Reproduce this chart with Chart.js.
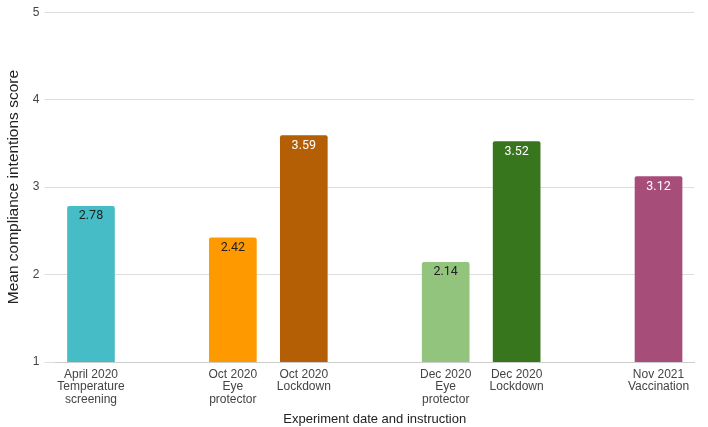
<!DOCTYPE html>
<html>
<head>
<meta charset="utf-8">
<script src="https://cdn.jsdelivr.net/npm/chart.js@4/dist/chart.umd.min.js"></script>
<style>
  html, body { margin: 0; padding: 0; background: #fff; }
  #wrap { width: 708px; height: 427px; }
</style>
</head>
<body>
<div id="wrap"><canvas id="myChart"></canvas></div>
<script>
"use strict"

// categories (blank ones are the gaps between experiment groups)
const categories = [
    ["April 2020", "Temperature", "screening"],
    "",
    ["Oct 2020", "Eye", "protector"],
    ["Oct 2020", "Lockdown"],
    "",
    ["Dec 2020", "Eye", "protector"],
    ["Dec 2020", "Lockdown"],
    "",
    ["Nov 2021", "Vaccination"]
];
const scores = [2.78, null, 2.42, 3.59, null, 2.14, 3.52, null, 3.12];
const barColors = ["#46bdc6", null, "#ff9900", "#b45f06", null, "#93c47d", "#38761d", null, "#a64d79"];
const labelColors = ["#222", null, "#222", "#fff", null, "#222", "#fff", null, "#fff"];
const yTicks = [1, 2, 3, 4, 5];

// draws the value just inside the top of each bar
const barValueLabels = {
    id: "barValueLabels",
    afterDatasetsDraw(chart) {
        const ctx = chart.ctx;
        const meta = chart.getDatasetMeta(0);
        ctx.save();
        ctx.font = "12.5px Roboto";
        ctx.textAlign = "center";
        ctx.textBaseline = "middle";
        meta.data.forEach(function (bar, i) {
            if (scores[i] === null) return;
            ctx.fillStyle = labelColors[i];
            ctx.fillText(scores[i].toFixed(2), bar.x, bar.y + 10);
        });
        ctx.restore();
    }
};

const data = {
    labels: categories,
    datasets: [
        {
            label: "Mean compliance intentions score",
            data: scores,
            backgroundColor: barColors,
            borderRadius: 2,
            borderSkipped: "bottom",
            barThickness: 47
        }
    ]
};

const config = {
    type: "bar",
    data: data,
    plugins: [barValueLabels],
    options: {
        responsive: false,
        animation: false,
        layout: { padding: { top: 7, right: 14, left: 0, bottom: 0 } },
        plugins: {
            legend: { display: false },
            tooltip: { enabled: false }
        },
        scales: {
            x: {
                grid: { display: false, drawTicks: false },
                border: { display: true, color: "#cccccc" },
                ticks: {
                    color: "#444",
                    font: { family: "Liberation Sans", size: 12, lineHeight: 1.05 },
                    padding: 6,
                    maxRotation: 0,
                    autoSkip: false
                },
                title: {
                    display: true,
                    text: "Experiment date and instruction",
                    color: "#222",
                    font: { family: "Liberation Sans", size: 13 },
                    padding: { top: 0, bottom: 0 }
                },
                afterFit(scale) { scale.height = 65; }
            },
            y: {
                min: 1,
                max: 5,
                afterBuildTicks(scale) {
                    scale.ticks = yTicks.map(v => ({ value: v }));
                },
                grid: { color: "#dddddd", tickLength: 11, drawTicks: true },
                border: { display: false },
                ticks: {
                    color: "#444",
                    font: { family: "Liberation Sans", size: 12 },
                    padding: 5
                },
                title: {
                    display: true,
                    text: "Mean compliance intentions score",
                    color: "#222",
                    font: { family: "Liberation Sans", size: 15.5 },
                    padding: { top: 4, bottom: 0 }
                },
                afterFit(scale) { scale.width = 55.5; }
            }
        }
    }
};

const canvas = document.getElementById("myChart");
canvas.width = 708;
canvas.height = 427;
const complianceChart = new Chart(canvas, config);
</script>
</body>
</html>
